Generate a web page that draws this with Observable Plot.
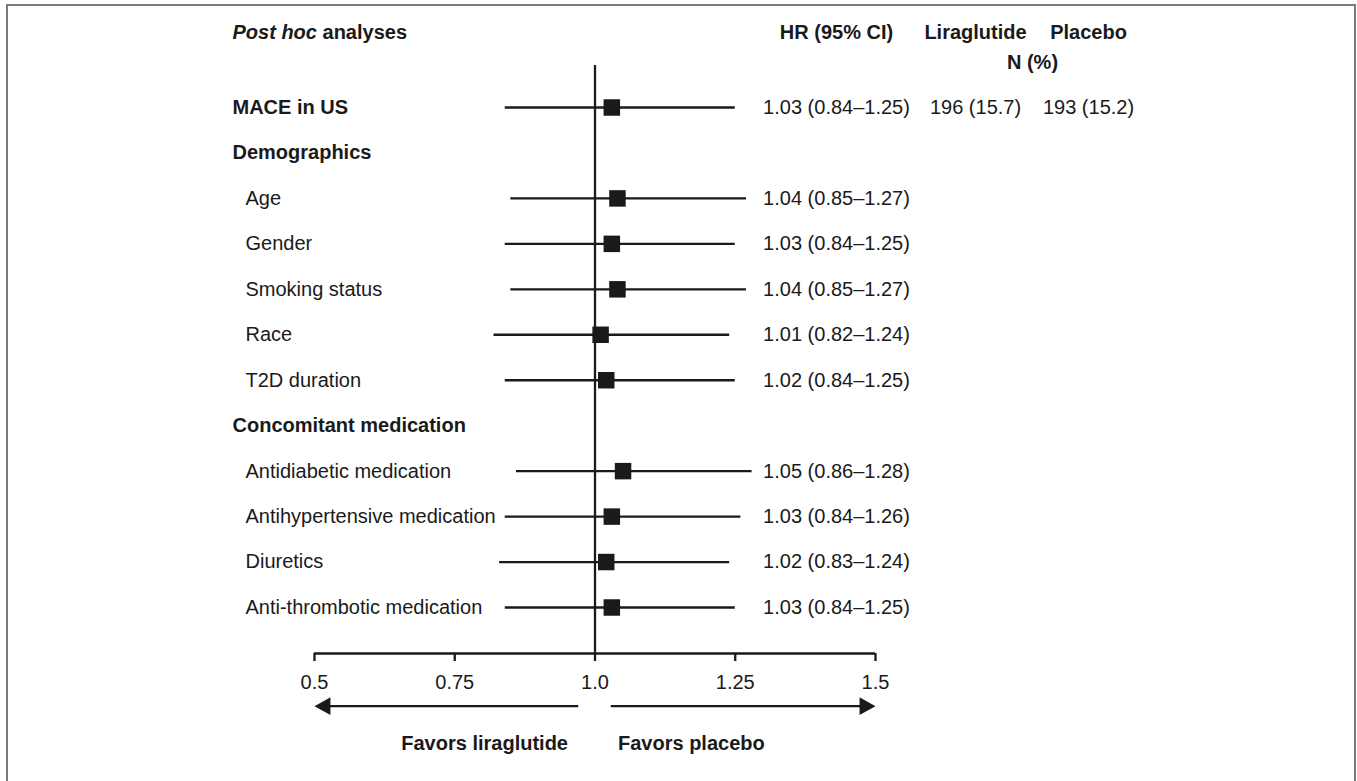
<!DOCTYPE html>
<html>
<head>
<meta charset="utf-8">
<script src="https://cdn.jsdelivr.net/npm/d3@7"></script>
<script src="https://cdn.jsdelivr.net/npm/@observablehq/plot@0.6"></script>
<style>
  html, body { margin: 0; padding: 0; background: #fff; }
  #wrap { position: relative; width: 1357px; height: 781px; overflow: hidden; }
  #border { position: absolute; left: 6px; top: 4px; width: 1350px; height: 800px; border: 2px solid #7a7a7a; box-sizing: border-box; pointer-events: none; }
  svg { display: block; }
</style>
</head>
<body>
<div id="wrap"><div id="chart"></div><div id="border"></div></div>
<script>
// ---- data ----
const rowLabels = ["MACE in US", "Demographics", "Age", "Gender", "Smoking status", "Race", "T2D duration",
  "Concomitant medication", "Antidiabetic medication", "Antihypertensive medication", "Diuretics", "Anti-thrombotic medication"];
const rowIsHeading = [true, true, false, false, false, false, false, true, false, false, false, false];
const hrPoint = [1.03, null, 1.04, 1.03, 1.04, 1.01, 1.02, null, 1.05, 1.03, 1.02, 1.03];
const ciLow   = [0.84, null, 0.85, 0.84, 0.85, 0.82, 0.84, null, 0.86, 0.84, 0.83, 0.84];
const ciHigh  = [1.25, null, 1.27, 1.25, 1.27, 1.24, 1.25, null, 1.28, 1.26, 1.24, 1.25];
const liraN = [196], liraPct = [15.7];
const placN = [193], placPct = [15.2];
const tickValues = [0.5, 0.75, 1.0, 1.25, 1.5];
const tickLabels = ["0.5", "0.75", "1.0", "1.25", "1.5"];
const titleText = "Post hoc analyses";
const colHR = "HR (95% CI)", colLira = "Liraglutide", colPlac = "Placebo", colN = "N (%)";
const favorsLeft = "Favors liraglutide", favorsRight = "Favors placebo";

// ---- table ----
const rows = rowLabels.map((label, i) => ({
  i, label, heading: rowIsHeading[i], hr: hrPoint[i], lo: ciLow[i], hi: ciHigh[i],
  hrText: hrPoint[i] == null ? "" : `${hrPoint[i].toFixed(2)} (${ciLow[i].toFixed(2)}–${ciHigh[i].toFixed(2)})`
}));
const estimates = rows.filter(d => d.hr != null);
const counts = liraN.map((n, i) => ({
  i, lira: `${n} (${liraPct[i].toFixed(1)})`, plac: `${placN[i]} (${placPct[i].toFixed(1)})`
}));

const ink = "#1a1a1a";
const lw = 2.3;
const headerRow = -1.65, nRow = -0.99, refTop = -0.924, axisRow = 12.012, arrowRow = 13.17, favorsRow = 13.99;
const gap = 0.029;

const leftHead = {draw(ctx, size) { const s = Math.sqrt(size); ctx.moveTo(0, 0); ctx.lineTo(0.9 * s, -0.5 * s); ctx.lineTo(0.9 * s, 0.5 * s); ctx.closePath(); }};
const rightHead = {draw(ctx, size) { const s = Math.sqrt(size); ctx.moveTo(0, 0); ctx.lineTo(-0.9 * s, -0.5 * s); ctx.lineTo(-0.9 * s, 0.5 * s); ctx.closePath(); }};

const chart = Plot.plot({
  width: 1357,
  height: 781,
  marginLeft: 314,
  marginRight: 482,
  marginTop: 0,
  marginBottom: 128,
  style: {fontFamily: "'Liberation Sans', Arial, sans-serif", fontSize: "20px", letterSpacing: "0px", color: ink, background: "transparent"},
  x: {domain: [0.5, 1.5]},
  y: {domain: [-2.354, axisRow], range: [0, 653], axis: null},
  marks: [
    // reference line at HR = 1
    Plot.ruleX([1], {y1: refTop, y2: axisRow, stroke: ink, strokeWidth: lw}),
    // confidence intervals
    Plot.ruleY(estimates, {y: "i", x1: "lo", x2: "hi", stroke: ink, strokeWidth: lw}),
    // point estimates
    Plot.dot(estimates, {x: "hr", y: "i", symbol: "square", r: 9.3, fill: ink, stroke: null}),
    // axis
    Plot.ruleY([axisRow], {x1: tickValues[0], x2: tickValues[tickValues.length - 1], stroke: ink, strokeWidth: lw}),
    Plot.axisX({ticks: tickValues, tickFormat: d => tickLabels[tickValues.indexOf(d)], tickSize: 8, tickPadding: 13, strokeWidth: lw, color: ink, label: null}),
    // direction arrows
    Plot.ruleY([arrowRow], {x1: tickValues[0] + 0.02, x2: 1 - gap, stroke: ink, strokeWidth: lw}),
    Plot.ruleY([arrowRow], {x1: 1 + gap, x2: tickValues[tickValues.length - 1] - 0.02, stroke: ink, strokeWidth: lw}),
    Plot.dot([tickValues[0]], {x: d => d, y: arrowRow, symbol: leftHead, r: 10, fill: ink, stroke: null}),
    Plot.dot([tickValues[tickValues.length - 1]], {x: d => d, y: arrowRow, symbol: rightHead, r: 10, fill: ink, stroke: null}),
    Plot.text([favorsLeft], {x: 1, y: favorsRow, text: d => d, dx: -27, textAnchor: "end", fontWeight: "bold", fill: ink}),
    Plot.text([favorsRight], {x: 1, y: favorsRow, text: d => d, dx: 23, textAnchor: "start", fontWeight: "bold", fill: ink}),
    // row labels
    Plot.text(rows.filter(d => d.heading), {y: "i", text: "label", frameAnchor: "left", dx: -82, textAnchor: "start", fontWeight: "bold", fill: ink}),
    Plot.text(rows.filter(d => !d.heading), {y: "i", text: "label", frameAnchor: "left", dx: -69, textAnchor: "start", fill: ink}),
    // HR column
    Plot.text(estimates, {y: "i", text: "hrText", frameAnchor: "right", dx: -39, textAnchor: "middle", fill: ink}),
    // counts
    Plot.text(counts, {y: "i", text: "lira", frameAnchor: "right", dx: 100, textAnchor: "middle", fill: ink}),
    Plot.text(counts, {y: "i", text: "plac", frameAnchor: "right", dx: 213, textAnchor: "middle", fill: ink}),
    // headers
    Plot.text([titleText], {y: headerRow, text: d => d, frameAnchor: "left", dx: -82, textAnchor: "start", fontWeight: "bold", fill: ink}),
    Plot.text([colHR], {y: headerRow, text: d => d, frameAnchor: "right", dx: -39, textAnchor: "middle", fontWeight: "bold", fill: ink}),
    Plot.text([colLira], {y: headerRow, text: d => d, frameAnchor: "right", dx: 100, textAnchor: "middle", fontWeight: "bold", fill: ink}),
    Plot.text([colPlac], {y: headerRow, text: d => d, frameAnchor: "right", dx: 213, textAnchor: "middle", fontWeight: "bold", fill: ink}),
    Plot.text([colN], {y: nRow, text: d => d, frameAnchor: "right", dx: 157, textAnchor: "middle", fontWeight: "bold", fill: ink})
  ]
});

// italicise "Post hoc" inside the title
chart.querySelectorAll("text").forEach(t => {
  if (t.textContent === titleText) {
    t.textContent = "";
    const ns = "http://www.w3.org/2000/svg";
    const a = document.createElementNS(ns, "tspan");
    a.setAttribute("font-style", "italic");
    a.textContent = "Post hoc";
    const b = document.createElementNS(ns, "tspan");
    b.textContent = " analyses";
    t.appendChild(a); t.appendChild(b);
  }
});

document.getElementById("chart").appendChild(chart);
</script>
</body>
</html>
